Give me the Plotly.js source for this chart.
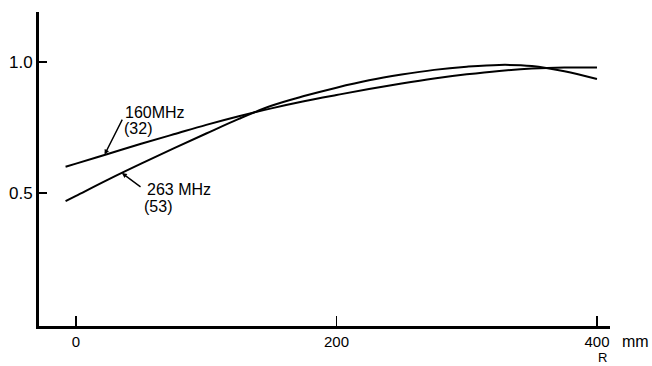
<!DOCTYPE html>
<html>
<head>
<meta charset="utf-8">
<script src="https://cdn.plot.ly/plotly-3.0.1.min.js"></script>
<style>html,body{margin:0;padding:0;background:#fff;}#chart{width:652px;height:366px;}</style>
</head>
<body>
<div id="chart"></div>
<script>
// Radius R (mm)
const radius = [-8, 0, 25, 50, 75, 100, 125, 150, 175, 200, 225, 250, 275, 300, 325, 350, 375, 400];
// Relative values for 160 MHz (32)
const f160 = [0.600, 0.612, 0.650, 0.688, 0.724, 0.760, 0.793, 0.823, 0.850, 0.874, 0.897, 0.918, 0.937, 0.953, 0.966, 0.975, 0.979, 0.979];
// Relative values for 263 MHz (53)
const f263 = [0.469, 0.489, 0.552, 0.612, 0.670, 0.727, 0.783, 0.833, 0.870, 0.902, 0.930, 0.952, 0.970, 0.982, 0.989, 0.985, 0.965, 0.935];
const xTickVals = [0, 200, 400];
const xTickText = ["0", "200", "400"];
const yTickVals = [0.5, 1.0];
const yTickText = ["0.5", "1.0"];

const font = "Liberation Sans, Arial, sans-serif";
const lineStyle = {color: "#000", width: 2, shape: "spline", smoothing: 1};

const traces = [
  {x: radius, y: f160, mode: "lines", line: lineStyle, name: "160MHz (32)", hoverinfo: "skip"},
  {x: radius, y: f263, mode: "lines", line: lineStyle, name: "263 MHz (53)", hoverinfo: "skip"}
];

const txt = (x, y, text, xref, yref, xanchor) => ({
  x, y, xref: xref || "x", yref: yref || "y", text, showarrow: false,
  xanchor: xanchor || "left", yanchor: "middle", font: {family: font, size: 16, color: "#000"}
});

const layout = {
  width: 652, height: 366,
  margin: {l: 39, r: 42, t: 12, b: 40},
  paper_bgcolor: "#fff", plot_bgcolor: "#fff",
  showlegend: false,
  font: {family: font, size: 16, color: "#000"},
  xaxis: {
    range: [-28.4, 410], showgrid: false, zeroline: false,
    showline: true, linecolor: "#000", linewidth: 3,
    ticks: "inside", ticklen: 10, tickwidth: 1.5, tickcolor: "#000",
    tickvals: xTickVals, ticktext: xTickText,
    tickfont: {family: font, size: 15, color: "#000"}
  },
  yaxis: {
    range: [-0.008, 1.191], showgrid: false, zeroline: false,
    showline: true, linecolor: "#000", linewidth: 3,
    ticks: "inside", ticklen: 8, tickwidth: 1.5, tickcolor: "#000",
    tickvals: yTickVals, ticktext: yTickText,
    tickfont: {family: font, size: 17, color: "#000"}
  },
  annotations: [
    txt(36.1, 0.809, "160MHz"),
    txt(35.0, 0.745, "(32)"),
    txt(53.0, 0.515, "263 MHz"),
    txt(51.0, 0.450, "(53)"),
    {x: 22, y: 0.647, ax: 36.1, ay: 0.786, xref: "x", yref: "y", axref: "x", ayref: "y",
     text: "", showarrow: true, arrowhead: 2, arrowsize: 0.7, arrowwidth: 1.4, arrowcolor: "#000"},
    {x: 35.3, y: 0.576, ax: 50.7, ay: 0.519, xref: "x", yref: "y", axref: "x", ayref: "y",
     text: "", showarrow: true, arrowhead: 2, arrowsize: 0.7, arrowwidth: 1.4, arrowcolor: "#000"},
    {x: 1.0175, y: -0.048, xref: "paper", yref: "paper", text: "mm", showarrow: false,
     xanchor: "left", yanchor: "middle", font: {family: font, size: 16, color: "#000"}},
    {x: 0.986, y: -0.127, xref: "paper", yref: "paper", text: "R", showarrow: false,
     xanchor: "center", yanchor: "bottom", borderpad: 0, font: {family: font, size: 13, color: "#000"}}
  ]
};

Plotly.newPlot("chart", traces, layout, {staticPlot: true, displayModeBar: false});
</script>
</body>
</html>
